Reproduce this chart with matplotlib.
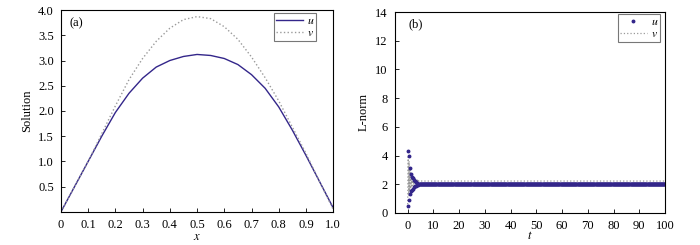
import matplotlib
matplotlib.use("Agg")
import matplotlib.pyplot as plt
import numpy as np

plt.rcParams['font.family'] = ['Liberation Serif', 'DejaVu Serif']
plt.rcParams['font.size'] = 9
plt.rcParams['mathtext.fontset'] = 'stix'

# panel (a): solution profiles
x_a = [0.0, 0.05, 0.1, 0.15, 0.2, 0.25, 0.3, 0.35, 0.4, 0.45, 0.5,
       0.55, 0.6, 0.65, 0.7, 0.75, 0.8, 0.85, 0.9, 0.95, 1.0]
u_a = [0.0, 0.5, 1.0, 1.5, 1.97, 2.35, 2.65, 2.87, 3.0, 3.08, 3.12,
       3.1, 3.04, 2.92, 2.72, 2.45, 2.08, 1.62, 1.12, 0.6, 0.08]
v_a = [0.0, 0.5, 1.0, 1.55, 2.1, 2.62, 3.04, 3.38, 3.64, 3.81, 3.87,
       3.83, 3.67, 3.42, 3.07, 2.66, 2.2, 1.68, 1.16, 0.6, 0.05]

# panel (b): L-norm vs time
t_early = [0.0, 0.2, 0.4, 0.6, 0.8, 1.0, 1.2, 1.4, 1.6, 1.8, 2.0, 2.2, 2.4,
           2.6, 2.8, 3.0, 3.2, 3.4, 3.6, 3.8, 4.0, 4.2, 4.4, 4.6, 4.8, 5.0]
u_early = [0.5, 4.3, 0.9, 4.0, 1.3, 3.1, 1.5, 2.7, 1.6, 2.5, 1.7, 2.4, 1.8,
           2.3, 1.85, 2.2, 1.9, 2.12, 1.93, 2.08, 1.96, 2.04, 1.98, 2.02, 1.99, 2.01]
v_early = [0.6, 3.9, 1.2, 3.6, 1.5, 3.0, 1.7, 2.8, 1.8, 2.6, 1.9, 2.5, 2.0,
           2.45, 2.05, 2.35, 2.1, 2.3, 2.15, 2.28, 2.18, 2.25, 2.2, 2.23, 2.21, 2.22]
u_steady = 2.0
v_steady = 2.22

t_late = np.arange(5.2, 100.01, 0.2)
t_b = np.concatenate([t_early, t_late])
u_b = np.concatenate([u_early, np.full(len(t_late), u_steady)])
v_b = np.concatenate([v_early, np.full(len(t_late), v_steady)])

u_col = '#33268a'
v_col = '#9a9a9a'

fig = plt.figure(figsize=(7, 2.45), dpi=100)
ax1 = fig.add_axes([0.087, 0.135, 0.389, 0.824])
ax2 = fig.add_axes([0.564, 0.131, 0.386, 0.82])

ax1.plot(x_a, u_a, color=u_col, lw=1.0, label='$u$')
ax1.plot(x_a, v_a, color=v_col, lw=1.0, ls=':', label='$v$')
ax1.set_xlim(0, 1.0)
ax1.set_ylim(0, 4.0)
ax1.set_xticks(np.arange(0, 1.01, 0.1))
ax1.set_xticklabels(['0'] + ['%.1f' % v for v in np.arange(0.1, 1.01, 0.1)])
ax1.set_yticks(np.arange(0.5, 4.01, 0.5))
ax1.set_yticklabels(['%.1f' % v for v in np.arange(0.5, 4.01, 0.5)])
ax1.set_xlabel('$x$', labelpad=0)
ax1.set_ylabel('Solution', labelpad=4)
ax1.text(0.033, 0.936, '(a)', transform=ax1.transAxes, va='center')

ax2.plot(t_b, v_b, color=v_col, lw=0.9, ls=':', label='$v$', zorder=1)
ax2.plot(t_b, u_b, ls='none', marker='o', ms=1.8, color=u_col, label='$u$', zorder=2)
ax2.set_xlim(-5, 100)
ax2.set_ylim(0, 14)
ax2.set_xticks(np.arange(0, 101, 10))
ax2.set_yticks(np.arange(0, 15, 2))
ax2.set_xlabel('$t$', labelpad=-1)
ax2.set_ylabel('L-norm', labelpad=4)
ax2.text(0.052, 0.94, '(b)', transform=ax2.transAxes, va='center')

for ax in (ax1, ax2):
    ax.tick_params(direction='in', length=3, width=0.6, pad=5)
    for s in ax.spines.values():
        s.set_linewidth(0.8)

leg_kw = dict(loc='upper right', fontsize=8.5, frameon=True, fancybox=False,
              edgecolor='#555555', handlelength=2.3, handletextpad=0.3,
              borderpad=0.15, labelspacing=0.05, borderaxespad=0, numpoints=1)

leg1 = ax1.legend(bbox_to_anchor=(0.9375, 0.985), **leg_kw)
leg1.get_frame().set_linewidth(0.8)

h, l = ax2.get_legend_handles_labels()
leg2 = ax2.legend(h[::-1], l[::-1], bbox_to_anchor=(0.981, 0.99), **leg_kw)
leg2.get_frame().set_linewidth(0.8)

fig.savefig('out.png', dpi=100)
